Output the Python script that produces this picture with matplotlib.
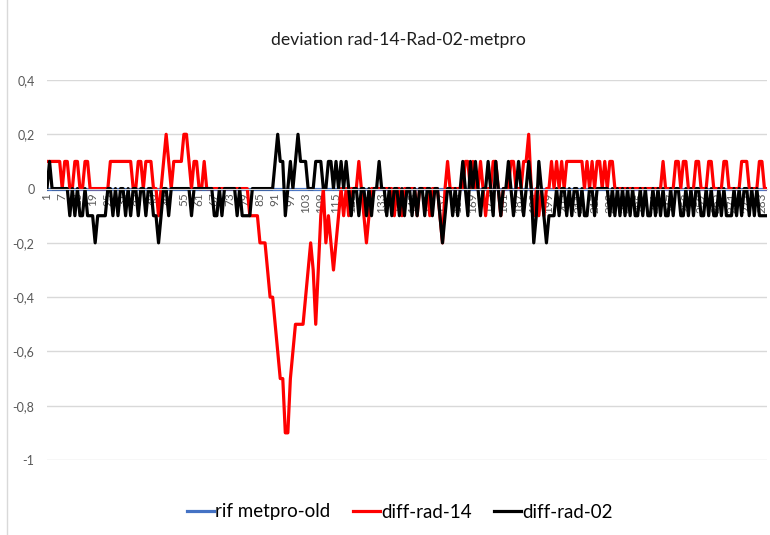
import numpy as np
import matplotlib.pyplot as plt

# values (steps of 0.1)
rad14 = [
    .1, .1, .1, .1, .1, .1, 0, .1, .1, 0,
    0, .1, .1, 0, 0, .1, .1, 0, 0, 0,
    0, 0, 0, 0, 0, .1, .1, .1, .1, .1,
    .1, .1, .1, .1, 0, 0, .1, .1, 0, .1,
    .1, .1, 0, 0, -.1, 0, .1, .2, .1, 0,
    .1, .1, .1, .1, .2, .2, .1, 0, .1, .1,
    0, 0, .1, 0, 0, 0, 0, 0, 0, 0,
    0, 0, 0, 0, 0, 0, 0, 0, 0, 0,
    -.1, -.1, -.1, -.1, -.2, -.2, -.2, -.3, -.4, -.4,
    -.5, -.6, -.7, -.7, -.9, -.9, -.7, -.6, -.5, -.5,
    -.5, -.5, -.4, -.3, -.2, -.3, -.5, -.3, -.1, 0,
    -.2, -.1, -.2, -.3, -.2, -.1, 0, -.1, 0, -.1,
    0, 0, 0, .1, 0, -.1, -.2, -.1, 0, 0,
    0, 0, 0, 0, 0, 0, 0, -.1, 0, 0,
    -.1, 0, 0, 0, 0, 0, -.1, 0, 0, 0,
    0, -.1, 0, 0, 0, -.1, -.2, 0, .1, 0,
    0, 0, 0, 0, 0, .1, .1, 0, .1, 0,
    0, .1, 0, -.1, 0, 0, .1, .1, 0, -.1,
    0, 0, 0, .1, .1, 0, 0, 0, .1, .1,
    .2, 0, -.1, 0, -.1, 0, -.1, 0, 0, .1,
    0, .1, 0, .1, 0, .1, .1, .1, .1, .1,
    .1, .1, 0, .1, 0, .1, 0, .1, .1, 0,
    .1, 0, .1, .1, 0, 0, 0, 0, 0, 0,
    0, 0, 0, 0, 0, 0, 0, 0, 0, 0,
    0, 0, 0, .1, 0, 0, 0, 0, .1, .1,
    0, .1, .1, 0, 0, 0, .1, .1, 0, 0,
    0, .1, .1, 0, 0, 0, 0, .1, .1, 0,
    0, 0, 0, 0, .1, .1, .1, 0, 0, 0,
    0, .1, .1, 0, 0,
]

rad02 = [
    0, .1, 0, 0, 0, 0, 0, 0, 0, -.1,
    0, -.1, 0, -.1, -.1, 0, -.1, -.1, -.1, -.2,
    -.1, -.1, -.1, -.1, 0, 0, -.1, 0, -.1, 0,
    0, -.1, 0, -.1, 0, 0, -.1, 0, 0, -.1,
    0, 0, -.1, -.1, -.2, -.1, 0, 0, -.1, 0,
    0, 0, 0, 0, 0, 0, 0, -.1, 0, 0,
    0, 0, 0, 0, 0, 0, -.1, -.1, 0, -.1,
    0, 0, 0, 0, 0, -.1, 0, -.1, -.1, -.1,
    -.1, 0, 0, 0, 0, 0, 0, 0, 0, 0,
    .1, .2, .1, .1, -.1, 0, .1, 0, .1, .2,
    .1, .1, .1, 0, 0, 0, .1, .1, .1, 0,
    0, .1, .1, 0, .1, 0, .1, 0, .1, 0,
    -.1, 0, 0, -.1, 0, 0, -.1, 0, -.1, 0,
    0, .1, 0, 0, -.1, 0, -.1, 0, 0, -.1,
    0, -.1, 0, 0, -.1, 0, -.1, 0, 0, -.1,
    0, 0, -.1, 0, 0, -.1, -.2, -.1, 0, 0,
    -.1, 0, -.1, 0, .1, 0, -.1, .1, 0, .1,
    0, -.1, 0, 0, .1, 0, -.1, .1, 0, -.1,
    0, 0, .1, 0, -.1, 0, .1, 0, -.1, 0,
    .1, 0, -.2, -.1, .1, 0, -.1, -.2, -.1, -.1,
    -.1, 0, -.1, 0, 0, -.1, 0, -.1, 0, 0,
    -.1, 0, -.1, -.1, 0, 0, -.1, 0, 0, 0,
    0, 0, -.1, 0, -.1, 0, -.1, 0, -.1, 0,
    -.1, 0, -.1, -.1, 0, -.1, 0, -.1, -.1, 0,
    -.1, 0, -.1, 0, -.1, -.1, 0, -.1, 0, 0,
    -.1, -.1, 0, -.1, 0, -.1, 0, 0, -.1, -.1,
    0, -.1, 0, -.1, -.1, 0, -.1, 0, -.1, -.1,
    -.1, 0, -.1, 0, -.1, 0, 0, -.1, 0, -.1,
    0, -.1, -.1, -.1, -.1,
]

rif_old = [0.0] * len(rad14)

yticks = [0.4, 0.2, 0, -0.2, -0.4, -0.6, -0.8, -1]
ytick_labels = ['0,4', '0,2', '0', '-0,2', '-0,4', '-0,6', '-0,8', '-1']

plt.rcParams['font.family'] = ['Lato', 'DejaVu Sans']

fig = plt.figure(figsize=(7.7, 5.35), dpi=100)
ax = fig.add_axes([47 / 770, 1 - 460 / 535, 720 / 770, 380 / 535])

# x axis crosses at 0 like the excel chart
for s in ['top', 'right', 'left']:
    ax.spines[s].set_visible(False)
ax.spines['bottom'].set_position(('data', 0))
ax.spines['bottom'].set_color('#d9d9d9')

x14 = np.arange(1, len(rad14) + 1)
x02 = np.arange(1, len(rad02) + 1)
xr = np.arange(1, len(rif_old) + 1)

ax.plot(xr, rif_old, color='#4472c4', lw=2.3, label='rif metpro-old')
ax.plot(x14, rad14, color='#ff0000', lw=2.3, label='diff-rad-14')
ax.plot(x02, rad02, color='#000000', lw=2.3, label='diff-rad-02')

ax.set_xlim(1, len(rad14))
ax.set_ylim(-1, 0.4)
ax.set_yticks(yticks)
ax.set_yticklabels(ytick_labels)
ax.tick_params(axis='y', length=0, pad=9, labelsize=9, labelcolor='#595959')
ax.grid(axis='y', color='#d9d9d9', lw=1)
ax.set_axisbelow(True)

xt = list(range(1, len(rad14) + 1, 6))
ax.set_xticks(xt)
ax.set_xticklabels([str(v) for v in xt])
ax.tick_params(axis='x', length=0, pad=3, labelsize=8.5, labelcolor='#595959',
               labelrotation=90)

fig.suptitle('deviation rad-14-Rad-02-metpro', x=398 / 770, y=1 - 40 / 535,
             va='center', fontsize=12.7, color='#1f1f1f')

fig.legend(loc='center', bbox_to_anchor=(400 / 770, 1 - 512 / 535), ncol=3,
           frameon=False, fontsize=13.5, handlelength=1.45, handletextpad=0.05,
           columnspacing=1.2)

fig.add_artist(plt.Line2D([7 / 770, 7 / 770], [0, 1], transform=fig.transFigure,
                          color='#d9d9d9', lw=1))

fig.savefig('out.png', dpi=100)
